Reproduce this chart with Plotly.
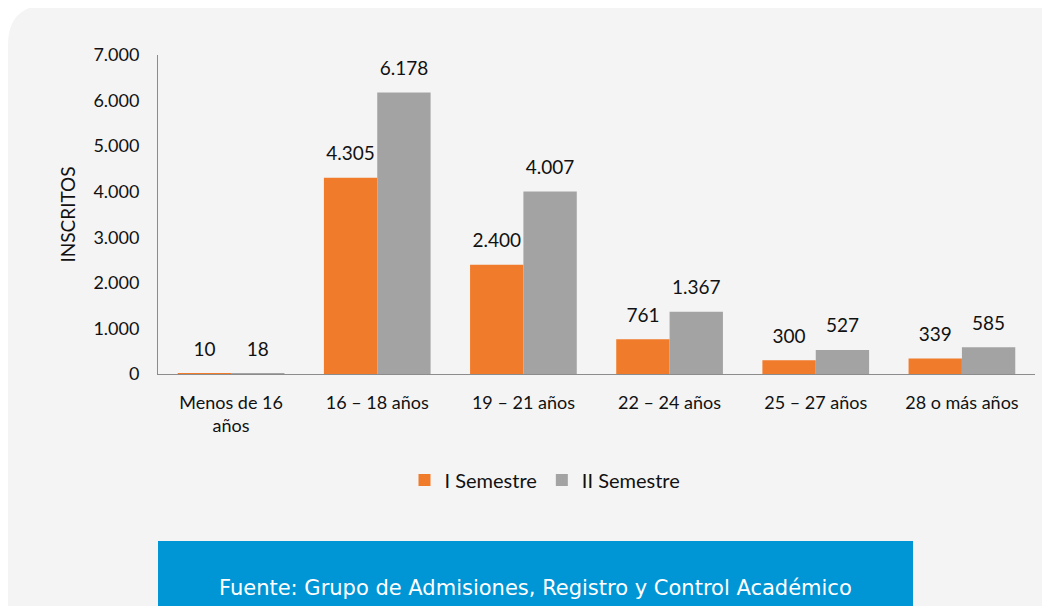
import plotly.graph_objects as go

categories = ["Menos de 16<br>años", "16 – 18 años", "19 – 21 años", "22 – 24 años", "25 – 27 años", "28 o más años"]
sem1 = [10, 4305, 2400, 761, 300, 339]
sem2 = [18, 6178, 4007, 1367, 527, 585]
series_names = ["I Semestre", "II Semestre"]
yticks = [0, 1000, 2000, 3000, 4000, 5000, 6000, 7000]
source_text = "Fuente: Grupo de Admisiones, Registro y Control Académico"

OFF = 8  # page body margin
W, H = 1042, 598
# plot area in page pixels
PL, PR, PT, PB = 158, 1035, 55, 374
L, R, T, B = PL - OFF, (W + OFF) - PR, PT - OFF, (H + OFF) - PB
pw, ph = PR - PL, PB - PT

def px(x):
    return (x - PL) / pw

def py(y):
    return (PB - y) / ph

FONT = "Lato"
colors = ["#f07b2a", "#a3a3a3"]

fig = go.Figure()
for name, vals, col in zip(series_names, [sem1, sem2], colors):
    fig.add_trace(go.Bar(
        x=categories, y=vals, name=name,
        marker=dict(color=col, line=dict(width=0)),
    ))
for name, vals in zip(series_names, [sem1, sem2]):
    fig.add_trace(go.Scatter(
        x=categories, y=vals, name=name, mode="markers+text",
        marker=dict(size=19, opacity=0), showlegend=False, hoverinfo="skip",
        texttemplate="%{y:,}", textposition="top center",
        textfont=dict(size=19, color="#111", family=FONT), cliponaxis=False,
    ))

# rounded background panel
x0, x1, y0, y1, r = OFF, 1070, 5, 640, 40
path = (f"M {px(x0)},{py(y0 + r)} "
        f"Q {px(x0)},{py(y0)} {px(x0 + r)},{py(y0)} "
        f"L {px(x1 - r)},{py(y0)} "
        f"Q {px(x1)},{py(y0)} {px(x1)},{py(y0 + r)} "
        f"L {px(x1)},{py(y1)} L {px(x0)},{py(y1)} Z")
shapes = [
    dict(type="path", xref="paper", yref="paper", path=path,
         fillcolor="#f4f4f4", line=dict(width=0), layer="below"),
    dict(type="rect", xref="paper", yref="paper",
         x0=px(158), x1=px(913), y0=py(541), y1=py(640),
         fillcolor="#0096d6", line=dict(width=0), layer="below"),
]

fig.update_layout(
    width=W, height=H,
    margin=dict(l=L, r=R, t=T, b=B, pad=0),
    paper_bgcolor="white", plot_bgcolor="rgba(0,0,0,0)",
    separators=",.",
    barmode="group", bargap=0.27, bargroupgap=0,
    scattermode="group", scattergap=0.27,
    font=dict(family=FONT, size=18, color="#111"),
    shapes=shapes,
    showlegend=True,
    legend=dict(orientation="h", x=px(545), xanchor="center", y=py(480), yanchor="middle",
                font=dict(size=20, family=FONT), bgcolor="rgba(0,0,0,0)",
                traceorder="normal"),
    annotations=[dict(text=source_text, xref="paper", yref="paper",
                      x=px(535), y=py(588), xanchor="center", yanchor="middle",
                      showarrow=False,
                      font=dict(size=21, color="white",
                                family="DejaVu Sans ExtraLight, DejaVu Sans"))],
)
fig.update_yaxes(range=[0, 7000], tickvals=yticks, tickformat=",",
                 showgrid=False, zeroline=False,
                 showline=True, linecolor="#8c8c8c", linewidth=1,
                 ticks="outside", ticklen=14, tickcolor="rgba(0,0,0,0)",
                 tickfont=dict(size=18, family=FONT),
                 title=dict(text="INSCRITOS", font=dict(size=19, family=FONT), standoff=12))
fig.update_xaxes(showgrid=False, showline=True, linecolor="#8c8c8c", linewidth=1,
                 ticks="outside", ticklen=12, tickcolor="rgba(0,0,0,0)",
                 tickfont=dict(size=18, family=FONT))

fig.write_html("out.html")
